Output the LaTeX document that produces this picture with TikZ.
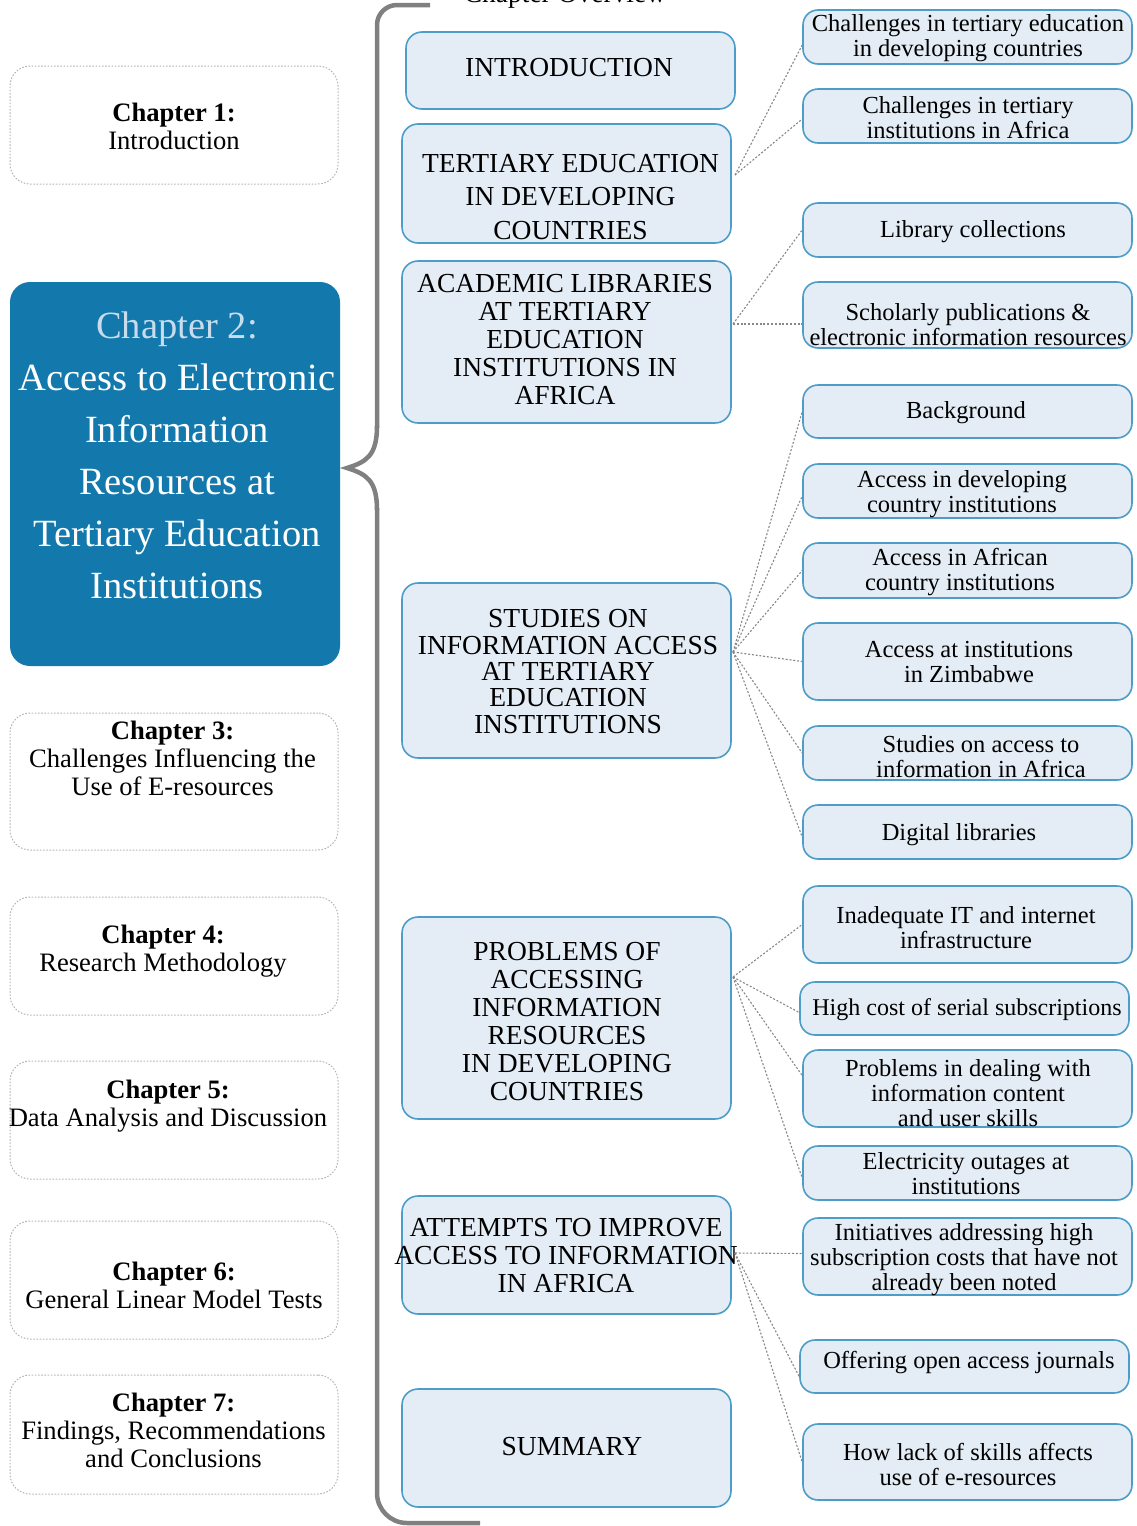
\documentclass[tikz,border=0pt]{standalone}
\usepackage{fontspec}
\setmainfont{Liberation Serif}
\usetikzlibrary{calc}
\definecolor{boxfill}{RGB}{228,237,245}
\definecolor{boxline}{RGB}{78,156,200}
\definecolor{chapblue}{RGB}{19,121,173}
\definecolor{chaplight}{RGB}{200,220,235}
\definecolor{dashgray}{RGB}{180,180,180}
\definecolor{bracegray}{RGB}{128,128,128}
\definecolor{linkgray}{RGB}{135,135,135}
\newcommand\mfnt{\fontsize{27.5}{33.5}\selectfont}
\newcommand\mfntb{\fontsize{27.5}{28}\selectfont}
\newcommand\mfntc{\fontsize{27.5}{26.3}\selectfont}
\newcommand\rfnt{\fontsize{24.5}{25}\selectfont}
\newcommand\cfnt{\fontsize{26.6}{28}\selectfont}
\newcommand\bfnt{\fontsize{38.5}{52}\selectfont}
\begin{document}
\begin{tikzpicture}[x=1pt,y=-1pt,
  chbox/.style={draw=dashgray, dash pattern=on 1.6pt off 1.6pt, line width=1pt, rounded corners=20pt, minimum width=328pt, inner sep=0pt},
  bigbox/.style={fill=chapblue, rounded corners=20pt, minimum width=330pt, inner sep=0pt},
  midbox/.style={draw=boxline, fill=boxfill, line width=1.6pt, rounded corners=16pt, minimum width=329pt, inner sep=0pt},
  rbox/.style={draw=boxline, fill=boxfill, line width=1.6pt, rounded corners=15pt, minimum width=329pt, inner sep=0pt},
  chtxt/.style={align=center, font=\cfnt, inner sep=0pt},
  midtxt/.style={align=center, font=\mfnt, inner sep=0pt},
  rtxt/.style={align=center, font=\rfnt, inner sep=0pt},
  link/.style={draw=linkgray, line width=1.1pt, dash pattern=on 2pt off 1.8pt},
  bracestyle/.style={draw=bracegray, line width=4.5pt}]
\useasboundingbox (0,0) rectangle (1137,1526);

% title (cut off at top, as in the reference)
\node[font=\mfnt, anchor=base, inner sep=0pt] (title) at (565,2) {Chapter Overview};

% brace
\draw[bracestyle, rounded corners=20pt] (430,5) -- (377,5) -- (377,428);
\draw[bracestyle] (377,426) .. controls (377,456) and (366,462) .. (347,468)
   .. controls (366,474) and (377,480) .. (377,510);
\draw[bracestyle, rounded corners=30pt] (377,508) -- (377,1523) -- (480,1523);

% left chapter boxes
\node[chbox, minimum height=118pt] (c1) at (174,125) {};
\node[chtxt] (c1t) at (174,126) {\textbf{Chapter 1:}\\Introduction};
\node[bigbox, minimum height=384pt] (c2) at (175,474) {};
\node[align=center, font=\bfnt, text=white, inner sep=0pt] (c2t) at (177,455)
  {{\color{chaplight}Chapter 2:}\\Access to Electronic\\Information\\Resources at\\Tertiary Education\\Institutions};
\node[chbox, minimum height=137pt] (c3) at (174,781.5) {};
\node[chtxt] (c3t) at (172.5,758) {\textbf{Chapter 3:}\\Challenges Influencing the\\Use of E-resources};
\node[chbox, minimum height=118pt] (c4) at (174,956) {};
\node[chtxt] (c4t) at (163,951) {\textbf{Chapter 4:}\\Research Methodology};
\node[chbox, minimum height=118pt] (c5) at (174,1120) {};
\node[chtxt] (c5t) at (168,1106) {\textbf{Chapter 5:}\\Data Analysis and Discussion};
\node[chbox, minimum height=118pt] (c6) at (174,1280) {};
\node[chtxt] (c6t) at (174,1285) {\textbf{Chapter 6:}\\General Linear Model Tests};
\node[chbox, minimum height=119pt] (c7) at (174,1434.5) {};
\node[chtxt] (c7t) at (173.5,1430) {\textbf{Chapter 7:}\\Findings, Recommendations\\and Conclusions};

% middle boxes
\node[midbox, minimum height=77pt] (m1) at (570.5,70.5) {};
\node[midtxt] (m1t) at (569,68) {INTRODUCTION};
\node[midbox, minimum height=119pt] (m2) at (566.5,183.5) {};
\node[midtxt] (m2t) at (570.5,197) {TERTIARY EDUCATION\\IN DEVELOPING\\COUNTRIES};
\node[midbox, minimum height=162pt] (m3) at (566.5,342) {};
\node[midtxt, font=\mfntb] (m3t) at (565,340) {ACADEMIC LIBRARIES\\AT TERTIARY\\EDUCATION\\INSTITUTIONS IN\\AFRICA};
\node[midbox, minimum height=175pt] (m4) at (566.5,670.5) {};
\node[midtxt, font=\mfntc] (m4t) at (568,671.5) {STUDIES ON\\INFORMATION ACCESS\\AT TERTIARY\\EDUCATION\\INSTITUTIONS};
\node[midbox, minimum height=202pt] (m5) at (566.5,1018) {};
\node[midtxt, font=\mfntb] (m5t) at (567,1021.5) {PROBLEMS OF\\ACCESSING\\INFORMATION\\RESOURCES\\IN DEVELOPING\\COUNTRIES};
\node[midbox, minimum height=118pt] (m6) at (566.5,1255) {};
\node[midtxt, font=\mfntb] (m6t) at (566,1256) {ATTEMPTS TO IMPROVE\\ACCESS TO INFORMATION\\IN AFRICA};
\node[midbox, minimum height=118pt] (m7) at (566.5,1448) {};
\node[midtxt] (m7t) at (572,1447) {SUMMARY};

% right boxes
\node[rbox, minimum height=54pt] (r1) at (967.5,37) {};
\node[rtxt] (r1t) at (968,38) {Challenges in tertiary education\\in developing countries};
\node[rbox, minimum height=54pt] (r2) at (967.5,116) {};
\node[rtxt] (r2t) at (968,118) {Challenges in tertiary\\institutions in Africa};
\node[rbox, minimum height=54pt] (r3) at (967.5,230) {};
\node[rtxt] (r3t) at (973,232) {Library collections};
\node[rbox, minimum height=66pt] (r4) at (967.5,315) {};
\node[rtxt] (r4t) at (968,325) {Scholarly publications \&\\electronic information resources};
\node[rbox, minimum height=53pt] (r5) at (967.5,411.5) {};
\node[rtxt] (r5t) at (966,413) {Background};
\node[rbox, minimum height=54pt] (r6) at (967.5,491) {};
\node[rtxt] (r6t) at (962,494) {Access in developing\\country institutions};
\node[rbox, minimum height=55pt] (r7) at (967.5,570.5) {};
\node[rtxt] (r7t) at (960,572) {Access in African\\country institutions};
\node[rbox, minimum height=77pt] (r8) at (967.5,661.5) {};
\node[rtxt] (r8t) at (969,662) {Access at institutions\\in Zimbabwe};
\node[rbox, minimum height=54pt] (r9) at (967.5,753) {};
\node[rtxt] (r9t) at (981,757) {Studies on access to\\information in Africa};
\node[rbox, minimum height=54pt] (r10) at (967.5,832) {};
\node[rtxt] (r10t) at (959,835) {Digital libraries};
\node[rbox, minimum height=77pt] (r11) at (967.5,924.5) {};
\node[rtxt] (r11t) at (966,928) {Inadequate IT and internet\\infrastructure};
\node[rbox, minimum height=53pt] (r12) at (964.5,1008.5) {};
\node[rtxt, font=\fontsize{24}{25}\selectfont] (r12t) at (967,1010) {High cost of serial subscriptions};
\node[rbox, minimum height=77pt] (r13) at (967.5,1088.5) {};
\node[rtxt] (r13t) at (968,1093) {Problems in dealing with\\information content\\and user skills};
\node[rbox, minimum height=54pt] (r14) at (967.5,1173) {};
\node[rtxt] (r14t) at (966,1174) {Electricity outages at\\institutions};
\node[rbox, minimum height=77pt] (r15) at (967.5,1256.5) {};
\node[rtxt] (r15t) at (964,1260) {Initiatives addressing high\\subscription costs that have not\\already been noted};
\node[rbox, minimum height=53pt] (r16) at (964.5,1366.5) {};
\node[rtxt] (r16t) at (969,1363) {Offering open access journals};
\node[rbox, minimum height=76pt] (r17) at (967.5,1462) {};
\node[rtxt] (r17t) at (968,1464) {How lack of skills affects\\use of e-resources};

% connector hubs
\coordinate (hT) at (735,175);
\coordinate (hA) at (733,324);
\coordinate (hS) at (733,652);
\coordinate (hP) at (733,977);
\coordinate (hI) at (735,1253);

\draw[link] (hT) -- ($(r1.west)+(0,8)$);
\draw[link] (hT) -- ($(r2.west)+(0,3)$);
\draw[link] (hA) -- (r3.west);
\draw[link] (hA) -- ($(r4.west)+(0,9)$);
\draw[link] (hS) -- (r5.west);
\draw[link] (hS) -- ($(r6.west)+(0,5)$);
\draw[link] (hS) -- (r7.west);
\draw[link] (hS) -- (r8.west);
\draw[link] (hS) -- (r9.west);
\draw[link] (hS) -- ($(r10.west)+(0,5)$);
\draw[link] (hP) -- (r11.west);
\draw[link] (hP) -- ($(r12.west)+(0,4)$);
\draw[link] (hP) -- ($(r13.west)+(0,-13)$);
\draw[link] (hP) -- ($(r14.west)+(0,5)$);
\draw[link] (hI) -- ($(r15.west)+(0,-3)$);
\draw[link] (hI) -- ($(r16.west)+(0,10)$);
\draw[link] (hI) -- (r17.west);
\end{tikzpicture}
\end{document}
